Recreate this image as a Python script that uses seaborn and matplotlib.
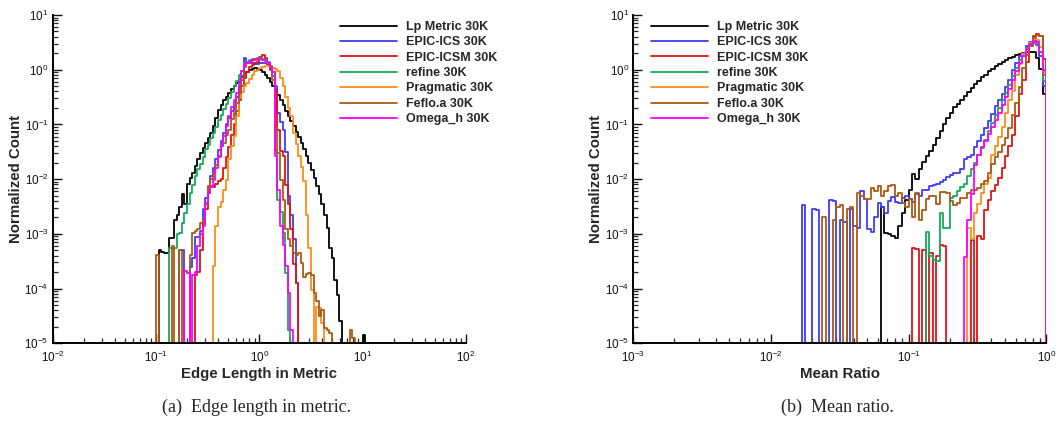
import numpy as np
import pandas as pd
import matplotlib
matplotlib.use("Agg")
import matplotlib.pyplot as plt
from matplotlib.ticker import LogLocator, LogFormatterSciNotation, NullFormatter
import seaborn as sns

# Methods (legend order) and their line colours
methods = ["Lp Metric 30K", "EPIC-ICS 30K", "EPIC-ICSM 30K", "refine 30K",
           "Pragmatic 30K", "Feflo.a 30K", "Omega_h 30K"]
colors = ["#000000", "#3c3cff", "#e01414", "#14aa5a", "#ff8c14", "#aa5a14", "#ff00ff"]

# Histograms use 40 log-spaced bins per decade
BIN_STEP = 0.025

# ---- Edge length in metric --------------------------------------------------
# Each series: log10 of the left edge of its first bin, then log10(normalized
# count) for consecutive bins (None = empty bin).
edge_lp_start = -0.975
edge_lp = [-3.29, -3.33, -3.35, -3.35, -3.07, -3.07, -2.75, -2.65, -2.50, -2.28,
           -2.45, -2.08, -1.97, -1.88, -1.76, -1.64, -1.53, -1.43, -1.34, -1.25,
           -1.16, -1.02, -0.88, -0.74, -0.64, -0.56, -0.49, -0.42, -0.36, -0.30,
           -0.24, -0.18, -0.13, -0.08, -0.04, -0.01, 0.02, 0.03, 0.02, 0.00,
           -0.04, -0.09, -0.15, -0.22, -0.29, -0.37, -0.46, -0.55, -0.65, -0.75,
           -0.85, -0.94, -1.03, -1.13, -1.23, -1.34, -1.45, -1.57, -1.70, -1.84,
           -1.98, -2.12, -2.28, -2.45, -2.65, -2.90, -3.25, -3.45, -3.85, -4.12, -4.60,
           None, None, None, None, None, None, None, None, -4.85]
edge_ics_start = -0.775
edge_ics = [-3.29, -3.30, None, None, -3.60, -3.45, -3.05, -3.05, -2.95, -2.55,
            -2.34, -2.15, -1.95, -1.80, -1.63, -1.46, -1.30, -1.15, -1.00, -0.88,
            -0.76, -0.68, -0.50, -0.30, -0.12, 0.22, 0.15, 0.12, 0.12, 0.11,
            0.10, 0.12, 0.12, 0.12, 0.10, 0.05, -0.05, -0.30, -0.79, -0.95,
            -1.10, -1.50, -2.30, -2.65, -3.10, -3.90]
edge_icsm_start = -0.625
edge_icsm = [-3.75, -3.70, -3.30, -2.80, -2.55, -2.25, -2.12, -2.15, -2.08, -2.04,
             -2.00, -1.80, -1.60, -1.42, -1.20, -1.00, -0.75, -0.55, -0.30, -0.15,
             -0.05, 0.05, 0.09, 0.12, 0.15, 0.24, 0.26, 0.21, 0.10, 0.00,
             -0.12, -0.40, -1.10, -1.49, -1.58, -2.10, -2.45, -2.92, -3.55, -3.90]
edge_refine_start = -0.875
edge_refine = [-3.26, -3.28, -3.26, -3.00, -2.98, -2.80, -2.62, -2.45, -2.25, -2.10,
               -1.95, -1.82, -1.72, -1.60, -1.45, -1.38, -1.25, -1.16, -1.05, -0.92,
               -0.83, -0.72, -0.62, -0.52, -0.40, -0.30, -0.20, -0.10, -0.02, 0.10,
               0.15, 0.17, 0.19, 0.20, 0.21, 0.21, 0.20, 0.18, 0.15, 0.05,
               -0.12, -1.46, -2.38, -2.60, -2.98, -3.71, -4.75]
edge_pragmatic_start = -0.45
edge_pragmatic = [-3.59, -2.86, -2.50, -2.41, -2.20, -2.01, -1.64, -1.40, -1.22, -0.85,
                  -0.52, -0.40, -0.30, -0.24, -0.17, -0.09, -0.03, 0.00, 0.03, 0.05,
                  0.06, 0.06, 0.05, 0.04, 0.02, -0.03, -0.15, -0.30, -0.50, -0.70,
                  -0.85, -1.15, -1.35, -1.58, -1.78, -2.03, -2.65, -3.25, -4.03, None,
                  -4.33, -4.35, -4.62]
edge_feflo_start = -1.0
edge_feflo = [-3.38, None, None, None, None, None, -3.23, None, None, -3.30,
              None, None, None, -3.39, -2.99, -2.95, -2.92, -2.80, -2.74, -2.45,
              -2.13, -2.00, -1.89, -1.75, -1.58, -1.40, -1.34, -1.20, -1.10, -0.90,
              -0.80, -0.60, -0.43, -0.18, 0.05, 0.12, 0.16, 0.18, 0.19, 0.19,
              0.19, 0.18, 0.18, 0.12, 0.06, -0.18, -1.04, -1.52, -2.01, -2.38,
              -2.92, -3.10, -3.23, -3.35, -3.38, -3.35, -3.53, -3.78, -3.74, -3.71,
              -3.75, -4.08, -4.23, -4.50, -4.40, -4.72, -4.75, -4.81,
              None, None, None, None, None, None, None, -4.75, -4.90]
edge_omegah_start = -0.725
edge_omegah = [-3.68, -3.72, None, -3.75, -3.70, -3.23, -3.00, -2.86, -2.44, -2.25,
               -2.15, -2.01, -1.80, -1.60, -1.40, -1.22, -1.02, -0.85, -0.68, -0.55,
               -0.43, -0.20, -0.02, 0.08, 0.12, 0.15, 0.17, 0.18, 0.19, 0.19,
               0.18, 0.16, 0.12, 0.05, -0.05, -1.58, -2.20, -2.86, -3.20, -3.59,
               -4.08, -4.75]

# ---- Mean ratio ---------------------------------------------------------------
ratio_lp_start = -1.2
ratio_lp = [-2.50, -2.98, -3.00, -3.03, -3.07, -2.86, -2.62, -2.38, -2.20, -1.90,
            -2.00, -1.82, -1.69, -1.58, -1.48, -1.37, -1.25, -1.12, -0.99, -0.88,
            -0.79, -0.69, -0.63, -0.55, -0.48, -0.40, -0.33, -0.27, -0.20, -0.14,
            -0.09, -0.03, 0.01, 0.06, 0.10, 0.14, 0.17, 0.21, 0.24, 0.27,
            0.29, 0.31, 0.32, 0.33, 0.32, 0.22, 0.02, -0.45]
ratio_ics_start = -1.775
ratio_ics = [-2.48, None, None, -2.55, -2.57, None, None, None, -2.38, -2.40,
             None, -2.75, -2.78, None, -2.55, -2.86, -2.90, -2.22, -2.37, -2.92,
             -2.97, -2.70, -2.44, -2.50, -2.62, -2.40, -2.33, -2.42, -2.44, -2.35,
             -2.31, -2.37, -2.42, -2.28, -2.31, -2.20, -2.19, -2.13, -2.11, -2.08,
             -2.06, -2.02, -1.96, -1.92, -1.89, -1.89, -1.81, -1.64, -1.60, -1.55,
             -1.42, -1.31, -1.19, -1.06, -0.94, -0.81, -0.66, -0.56, -0.44, -0.31,
             -0.19, 0.00, 0.13, 0.25, 0.31, 0.44, 0.51, 0.48, 0.45, 0.25, -0.30]
ratio_icsm_start = -0.975
ratio_icsm = [-3.25, -3.27, None, -3.29, None, -3.35, None, -3.41, -3.20, -3.22,
              None, None, None, None, None, None, None, -3.11, None, -3.04,
              -3.10, -2.56, -2.38, -2.22, -2.10, -1.97, -1.79, -1.58, -1.40, -1.20,
              -0.85, -0.45, -0.18, 0.15, 0.45, 0.61, 0.66, 0.62, 0.20]
ratio_refine_start = -0.875
ratio_refine = [-2.97, -3.40, -3.47, -3.50, -2.62, -2.90, -2.90, -2.35, -2.30, -2.22,
                -2.15, -2.08, -1.95, -1.82, -1.70, -1.56, -1.43, -1.28, -1.12, -0.97,
                -0.82, -0.70, -0.56, -0.42, -0.28, -0.12, 0.04, 0.18, 0.28, 0.40,
                0.48, 0.50, 0.47, 0.32, -0.20]
ratio_pragmatic_start = -0.575
ratio_pragmatic = [-2.90, -3.10, -2.62, -2.45, -2.25, -2.09, -1.98, -1.55, -1.40, -1.23,
                   -1.05, -0.80, -0.56, -0.38, -0.09, 0.11, 0.28, 0.38, 0.49, 0.56,
                   0.55, 0.42, -0.05]
ratio_feflo_start = -1.625
ratio_feflo = [-2.70, None, None, -2.75, -2.50, -2.48, None, -2.55, -2.50, None,
               -2.25, -2.30, -2.37, -2.37, -2.16, -2.22, -2.13, -2.31, -2.22, -2.13,
               -2.10, -2.31, -2.25, -2.44, -2.50, -2.37, -2.70, -2.25, -2.74, -2.56,
               -2.37, -2.31, -2.30, -2.45, -2.23, -2.23, -2.25, -2.40, -2.47, -2.44,
               -2.35, -2.35, -2.25, -2.20, -2.20, -2.17, -2.09, -2.03, -1.89, -1.73,
               -1.60, -1.51, -1.38, -1.25, -1.07, -0.82, -0.61, -0.31, 0.03, 0.26,
               0.43, 0.58, 0.64, 0.61, -0.10]
ratio_omegah_start = -0.6
ratio_omegah = [-3.42, -2.75, -2.28, -1.75, -1.55, -1.42, -1.30, -1.17, -1.05, -0.92,
                -0.80, -0.65, -0.50, -0.35, -0.19, -0.03, 0.12, 0.25, 0.38, 0.47,
                0.53, 0.50, 0.33, 0.00]

edge_series = [(edge_lp_start, edge_lp), (edge_ics_start, edge_ics),
               (edge_icsm_start, edge_icsm), (edge_refine_start, edge_refine),
               (edge_pragmatic_start, edge_pragmatic), (edge_feflo_start, edge_feflo),
               (edge_omegah_start, edge_omegah)]
ratio_series = [(ratio_lp_start, ratio_lp), (ratio_ics_start, ratio_ics),
                (ratio_icsm_start, ratio_icsm), (ratio_refine_start, ratio_refine),
                (ratio_pragmatic_start, ratio_pragmatic), (ratio_feflo_start, ratio_feflo),
                (ratio_omegah_start, ratio_omegah)]

sns.set_style("ticks")
plt.rcParams.update({
    "font.family": ["Liberation Sans", "DejaVu Sans"],
    "mathtext.fontset": "custom",
    "mathtext.rm": "Liberation Sans",
    "mathtext.it": "Liberation Sans:italic",
    "mathtext.bf": "Liberation Sans:bold",
    "axes.linewidth": 1.4,
    "axes.edgecolor": "black",
})

W, H = 1064, 432
fig = plt.figure(figsize=(W / 100, H / 100), dpi=100)
ax_len = fig.add_axes([52.7 / W, 1 - 343.3 / H, 413.3 / W, 328.3 / H])
ax_ratio = fig.add_axes([633.0 / W, 1 - 343.3 / H, 413.3 / W, 328.3 / H])


def draw_histograms(ax, series, lo, hi):
    """Step histograms on a shared log-spaced bin grid [10**lo, 10**hi]."""
    log_edges = np.round(np.arange(lo, hi + BIN_STEP / 2, BIN_STEP), 6)
    edges = 10.0 ** log_edges
    centers = np.sqrt(edges[:-1] * edges[1:])
    for name, color, (start, logc) in zip(methods, colors, series):
        weights = np.zeros(len(centers))
        i0 = int(round((start - lo) / BIN_STEP))
        for j, v in enumerate(logc):
            if v is not None:
                weights[i0 + j] = 10.0 ** v
        df = pd.DataFrame({"value": centers, "count": weights})
        sns.histplot(data=df, x="value", weights="count", bins=edges.tolist(),
                     element="step", fill=False, stat="count",
                     color=color, linewidth=1.3, label=name, ax=ax)


def style_axes(ax, xlo, xhi, xlabel):
    ax.set_xscale("log")
    ax.set_yscale("log")
    ax.set_xlim(xlo, xhi)
    ax.set_ylim(1e-5, 1e1)
    for side in ("top", "right"):
        ax.spines[side].set_visible(False)
    for axis in (ax.xaxis, ax.yaxis):
        axis.set_major_locator(LogLocator(base=10, numticks=20))
        axis.set_minor_locator(LogLocator(base=10, subs=np.arange(2, 10), numticks=20))
        axis.set_major_formatter(LogFormatterSciNotation())
        axis.set_minor_formatter(NullFormatter())
    ax.tick_params(which="major", direction="in", length=6.5, width=1.0,
                   labelsize=8.4, pad=3, colors="#111111", top=False, right=False)
    ax.tick_params(which="minor", direction="in", length=3.5, width=0.9,
                   top=False, right=False)
    ax.tick_params(axis="x", which="major", pad=5)
    ax.set_xlabel(xlabel, fontsize=10.8, fontweight="bold")
    ax.set_ylabel("Normalized Count", fontsize=10.8, fontweight="bold")
    ax.xaxis.set_label_coords(0.5, -0.073)
    ax.yaxis.set_label_coords(-0.073, 0.5)
    ax.grid(False)


draw_histograms(ax_len, edge_series, -1.05, 1.1)
draw_histograms(ax_ratio, ratio_series, -1.825, 0.025)

style_axes(ax_len, 1e-2, 1e2, "Edge Length in Metric")
style_axes(ax_ratio, 1e-3, 1e0, "Mean Ratio")

legend_kw = dict(loc="upper left", bbox_transform=fig.transFigure, frameon=False,
                 prop={"weight": "bold", "size": 9}, handlelength=4.55,
                 handletextpad=0.72, labelspacing=0.27, borderpad=0, borderaxespad=0)
ax_len.legend(bbox_to_anchor=(340 / W, 1 - 21 / H), **legend_kw)
ax_ratio.legend(bbox_to_anchor=(651 / W, 1 - 21 / H), **legend_kw)

fig.text(256.5 / W, 1 - 407 / H, "(a)  Edge length in metric.", ha="center", va="center",
         family="Liberation Serif", fontsize=13)
fig.text(837 / W, 1 - 407 / H, "(b)  Mean ratio.", ha="center", va="center",
         family="Liberation Serif", fontsize=13)

fig.savefig("out.png", dpi=100)
